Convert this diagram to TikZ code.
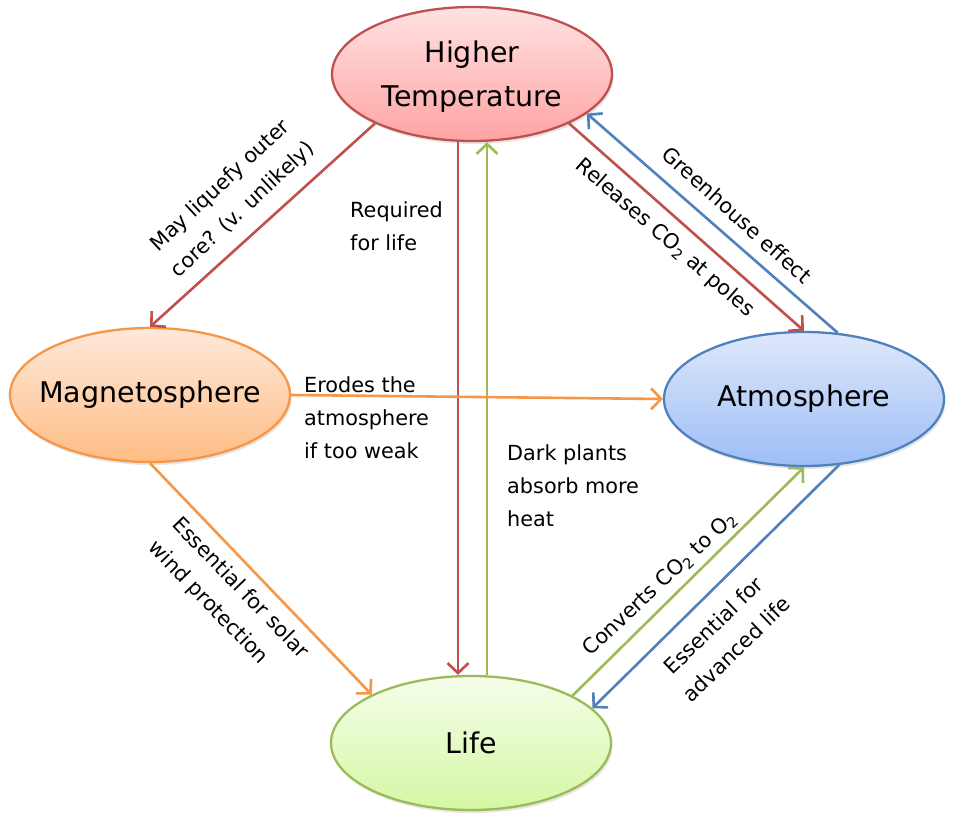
\documentclass[tikz,border=0pt]{standalone}
\usepackage{fontspec}
\setmainfont{DejaVu Sans}
\usetikzlibrary{arrows.meta,shapes.geometric,shadows}
\definecolor{cred}{HTML}{C0504D}
\definecolor{cblue}{HTML}{4F81BD}
\definecolor{cgreen}{HTML}{9BBB59}
\definecolor{corange}{HTML}{F79646}
\definecolor{htTop}{HTML}{FFE2E2}
\definecolor{htBot}{HTML}{FFA4A4}
\definecolor{mgTop}{HTML}{FEE9DA}
\definecolor{mgBot}{HTML}{FFBD85}
\definecolor{atTop}{HTML}{DEE8FB}
\definecolor{atBot}{HTML}{9DBEF6}
\definecolor{lfTop}{HTML}{F5FEEA}
\definecolor{lfBot}{HTML}{D5F7A4}
\tikzset{
  bubble/.style={ellipse, minimum width=280pt, minimum height=134pt, inner sep=0pt,
    line width=2.3pt,
    drop shadow={opacity=0.2, shadow xshift=1.5pt, shadow yshift=-3pt}},
  btext/.style={inner sep=0pt, align=center, font=\fontsize{28.5}{44}\selectfont},
  conn/.style={line width=2.6pt, -{Straight Barb[length=10pt,width=21pt,line width=2.6pt]}},
  lbl/.style={inner sep=0pt, font=\fontsize{20.8}{33}\selectfont},
}
\begin{document}
\begin{tikzpicture}[x=1pt,y=-1pt]
\path[use as bounding box, fill=white] (0,0) rectangle (957,826);

\node[bubble, draw=cred, top color=htTop, bottom color=htBot] (ht) at (472,74) {};
\node[bubble, draw=corange, top color=mgTop, bottom color=mgBot] (mag) at (150,395) {};
\node[bubble, draw=cblue, top color=atTop, bottom color=atBot] (atm) at (804,399) {};
\node[bubble, draw=cgreen, top color=lfTop, bottom color=lfBot] (life) at (471,743) {};
\node[btext] (htt) at ([yshift=-3pt]ht.center) {Higher\\Temperature};
\node[btext] (magt) at (mag.center) {Magnetosphere};
\node[btext] (atmt) at (atm.center) {Atmosphere};
\node[btext] (lifet) at (life.center) {Life};

\draw[conn, cred] (ht.207.5) -- (mag.north);
\draw[conn, cred] ([xshift=-14pt]ht.south) -- ([xshift=-13pt]life.north);
\draw[conn, cgreen] ([xshift=16pt]life.north) -- ([xshift=15pt]ht.south);
\draw[conn, cred] (ht.-27.5) -- (atm.north);
\draw[conn, cblue] (atm.63) -- (ht.-19);
\draw[conn, corange] (mag.east) -- (atm.west);
\draw[conn, corange] (mag.south) -- (life.154);
\draw[conn, cgreen] (life.25.4) -- (atm.south);
\draw[conn, cblue] (atm.-62) -- (life.16.5);

\node[lbl, align=center, rotate=43] (l1) at (232,198) {May liquefy outer\\core? (v. unlikely)};
\node[lbl, align=left, anchor=north west] (l2) at (350,201) {Required\\for life};
\node[lbl, align=left, anchor=north west] (l3) at (304,376) {Erodes the\\atmosphere\\if too weak};
\node[lbl, align=left, anchor=north west] (l4) at (507,444) {Dark plants\\absorb more\\heat};
\node[lbl, rotate=-41] (l5) at (665,238) {Releases CO\textsubscript{2} at poles};
\node[lbl, rotate=-42] (l6) at (737,215) {Greenhouse effect};
\node[lbl, rotate=43] (l7) at (660,584) {Converts CO\textsubscript{2} to O\textsubscript{2}};
\node[lbl, align=center, rotate=44] (l8) at (725,637) {Essential for\\advanced life};
\node[lbl, align=left, rotate=-46] (l9) at (228,600) {Essential for solar\\wind protection};
\end{tikzpicture}
\end{document}
